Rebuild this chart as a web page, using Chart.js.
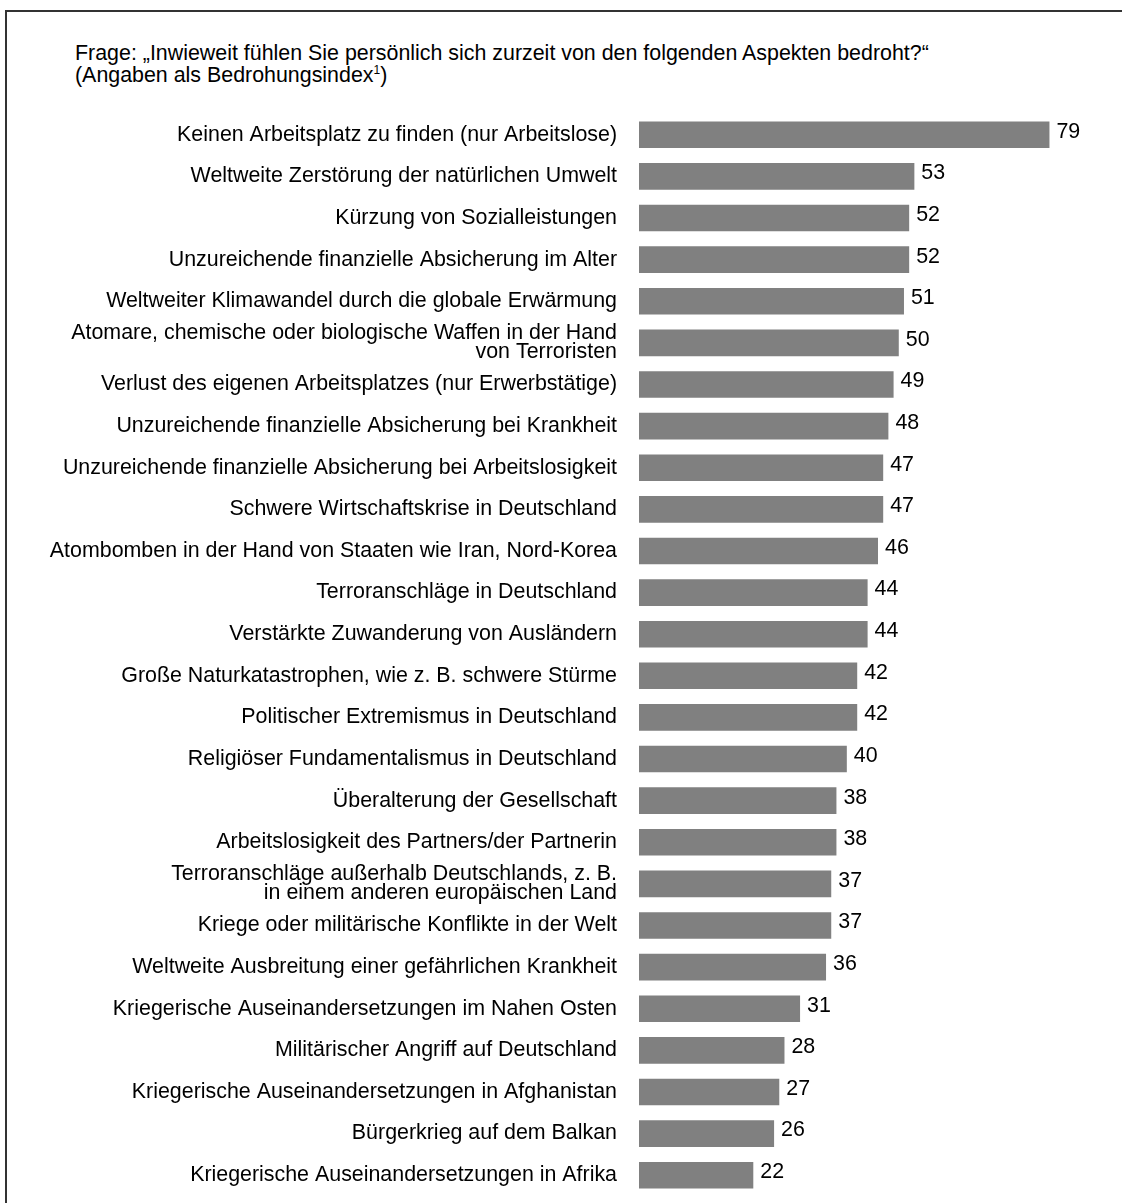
<!DOCTYPE html>
<html>
<head>
<meta charset="utf-8">
<script src="https://cdn.jsdelivr.net/npm/chart.js@4.4.1/dist/chart.umd.min.js"></script>
<style>
  body { margin: 0; background: #fff; }
  #wrap { position: relative; width: 1122px; height: 1203px; overflow: hidden; }
  #frame { position: absolute; left: 5px; top: 10px; right: -2px; bottom: -2px; border-top: 2px solid #333; border-left: 2px solid #333; }
  #title { position: absolute; left: 75px; top: 43px; font-family: "Liberation Sans", Arial, sans-serif; font-size: 21.4px; line-height: 21.5px; color: #000; }
  #title sup { font-size: 12px; line-height: 0; vertical-align: 8px; }
  #chart { position: absolute; left: 0; top: 0; }
</style>
</head>
<body>
<div id="wrap">
  <div id="frame"></div>
  <div id="title">Frage: „Inwieweit fühlen Sie persönlich sich zurzeit von den folgenden Aspekten bedroht?“<br>(Angaben als Bedrohungsindex<sup>1</sup>)</div>
  <canvas id="chart" width="1122" height="1203"></canvas>
</div>
<script>
// Bedrohungsindex, sorted as in the source
const aspects = [
  'Keinen Arbeitsplatz zu finden (nur Arbeitslose)',
  'Weltweite Zerstörung der natürlichen Umwelt',
  'Kürzung von Sozialleistungen',
  'Unzureichende finanzielle Absicherung im Alter',
  'Weltweiter Klimawandel durch die globale Erwärmung',
  ['Atomare, chemische oder biologische Waffen in der Hand', 'von Terroristen'],
  'Verlust des eigenen Arbeitsplatzes (nur Erwerbstätige)',
  'Unzureichende finanzielle Absicherung bei Krankheit',
  'Unzureichende finanzielle Absicherung bei Arbeitslosigkeit',
  'Schwere Wirtschaftskrise in Deutschland',
  'Atombomben in der Hand von Staaten wie Iran, Nord-Korea',
  'Terroranschläge in Deutschland',
  'Verstärkte Zuwanderung von Ausländern',
  'Große Naturkatastrophen, wie z. B. schwere Stürme',
  'Politischer Extremismus in Deutschland',
  'Religiöser Fundamentalismus in Deutschland',
  'Überalterung der Gesellschaft',
  'Arbeitslosigkeit des Partners/der Partnerin',
  ['Terroranschläge außerhalb Deutschlands, z. B.', 'in einem anderen europäischen Land'],
  'Kriege oder militärische Konflikte in der Welt',
  'Weltweite Ausbreitung einer gefährlichen Krankheit',
  'Kriegerische Auseinandersetzungen im Nahen Osten',
  'Militärischer Angriff auf Deutschland',
  'Kriegerische Auseinandersetzungen in Afghanistan',
  'Bürgerkrieg auf dem Balkan',
  'Kriegerische Auseinandersetzungen in Afrika'
];
const indexValues = [79, 53, 52, 52, 51, 50, 49, 48, 47, 47, 46, 44, 44, 42, 42, 40, 38, 38, 37, 37, 36, 31, 28, 27, 26, 22];

const fontFamily = '"Liberation Sans", Arial, sans-serif';

// numbers right of each bar
const valueLabels = {
  id: 'valueLabels',
  afterDatasetsDraw(chart) {
    const ctx = chart.ctx;
    const meta = chart.getDatasetMeta(0);
    ctx.save();
    ctx.font = '21.4px ' + fontFamily;
    ctx.fillStyle = '#000';
    ctx.textAlign = 'left';
    ctx.textBaseline = 'middle';
    meta.data.forEach((bar, i) => {
      ctx.fillText(indexValues[i], bar.x + 7, bar.y - 3);
    });
    ctx.restore();
  }
};

new Chart(document.getElementById('chart'), {
  type: 'bar',
  data: {
    labels: aspects,
    datasets: [{
      data: indexValues,
      backgroundColor: '#808080',
      borderWidth: 0,
      barPercentage: 0.64,
      categoryPercentage: 1
    }]
  },
  options: {
    indexAxis: 'y',
    responsive: false,
    animation: false,
    layout: { padding: { top: 114, bottom: 7, left: 0, right: 5 } },
    plugins: {
      legend: { display: false },
      tooltip: { enabled: false }
    },
    scales: {
      x: {
        min: 0,
        max: 92,
        display: false
      },
      y: {
        grid: { display: false },
        border: { display: false },
        afterFit(scale) {
          scale.width = 639;
          scale.paddingTop = 0;
          scale.paddingBottom = 0;
        },
        ticks: {
          color: '#000',
          padding: 14,
          autoSkip: false,
          font: { family: fontFamily, size: 21.4, lineHeight: 0.89 }
        }
      }
    }
  },
  plugins: [valueLabels]
});
</script>
</body>
</html>
